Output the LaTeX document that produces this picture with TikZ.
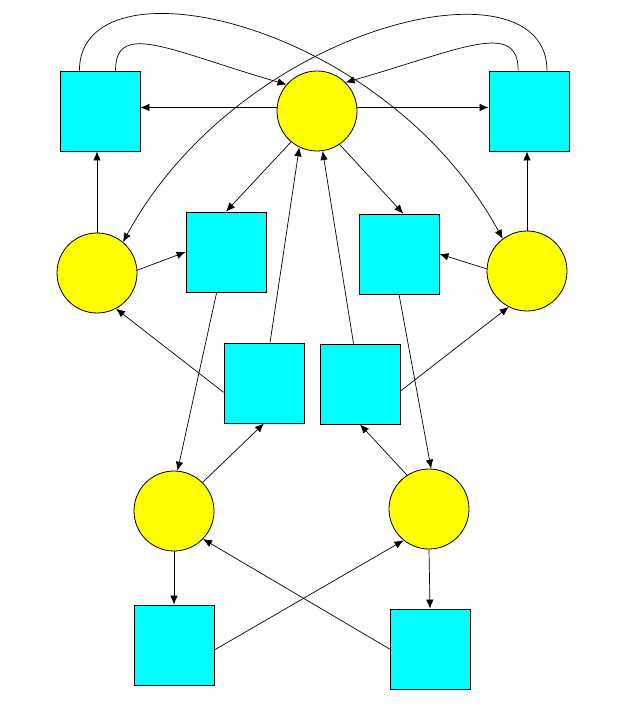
\documentclass[tikz,border=0pt]{standalone}
\usepackage{tikz}
\usetikzlibrary{arrows.meta}
\definecolor{boxcyan}{RGB}{0,255,255}
\definecolor{blobyellow}{RGB}{255,255,0}

\begin{document}
\begin{tikzpicture}[x=1pt,y=-1pt,
  box/.style={draw=black,fill=boxcyan,minimum size=80pt,inner sep=0pt,line width=0.8pt},
  blob/.style={circle,draw=black,fill=blobyellow,minimum size=80pt,inner sep=0pt,line width=0.8pt},
  link/.style={-{Latex[length=9pt,width=7.5pt]},line width=0.7pt}]
\useasboundingbox (0,0) rectangle (628,708);

\node[box] (A1) at (100,111) {};
\node[blob] (A2) at (317,111) {};
\node[box] (A3) at (529,111) {};

\node[blob] (B1) at (97,273) {};
\node[box] (B2) at (226,252) {};
\node[box] (B3) at (399,254) {};
\node[blob] (B4) at (527,271) {};

\node[box] (C1) at (264,383) {};
\node[box] (C2) at (360,384) {};

\node[blob] (D1) at (174,511) {};
\node[blob] (D2) at (429,509) {};

\node[box] (E1) at (174,645) {};
\node[box] (E2) at (430,649) {};


\path[link] (A2.175) edge [] (A1.5);
\path[link] (A2.5) edge [] (A3.175);
\path[link] (B1.north) edge [] (B1 |- A1.south);
\path[link] (B4.north) edge [] (B4 |- A3.south);

\path[link] (A2.230) edge [] (B2.north);
\path[link] (A2.304) edge [] (B3.84);
\path[link] (B1.4) edge [] (B2.west);
\path[link] (B4.177) edge [] (B3.east);

\path[link] (C1.193) edge [] (B1.298);
\path[link] (C2.-10) edge [] (B4.243);
\path[link] (C1) edge [] (A2.244);
\path[link] (C2) edge [] (A2.278);

\path[link] (B2.257) edge [] (D1.85);
\path[link] (B3.south) edge [] (D2.87);
\path[link] (D1.45) edge [] (C1.south);
\path[link] (D2.123) edge [] (C2.south);

\path[link] (D1) edge [] (E1);
\path[link] (D2.south) edge [] (E2.north);
\path[link] (E1.-7) edge [] (D2.231);
\path[link] (E2.west) edge [] (D1.316);

\draw[link] (A1.69) .. controls +(0,-51) and +(-115,-33) .. (A2.139);
\draw[link] (A3.105) .. controls +(0,-51) and +(115,-33) .. (A2.45);
\draw[link] (A1.117) .. controls +(0,-116) and +(-120,-220) .. (B4.127);
\draw[link] (A3.66) .. controls +(0,-116) and +(120,-220) .. (B1.50);
\end{tikzpicture}
\end{document}
